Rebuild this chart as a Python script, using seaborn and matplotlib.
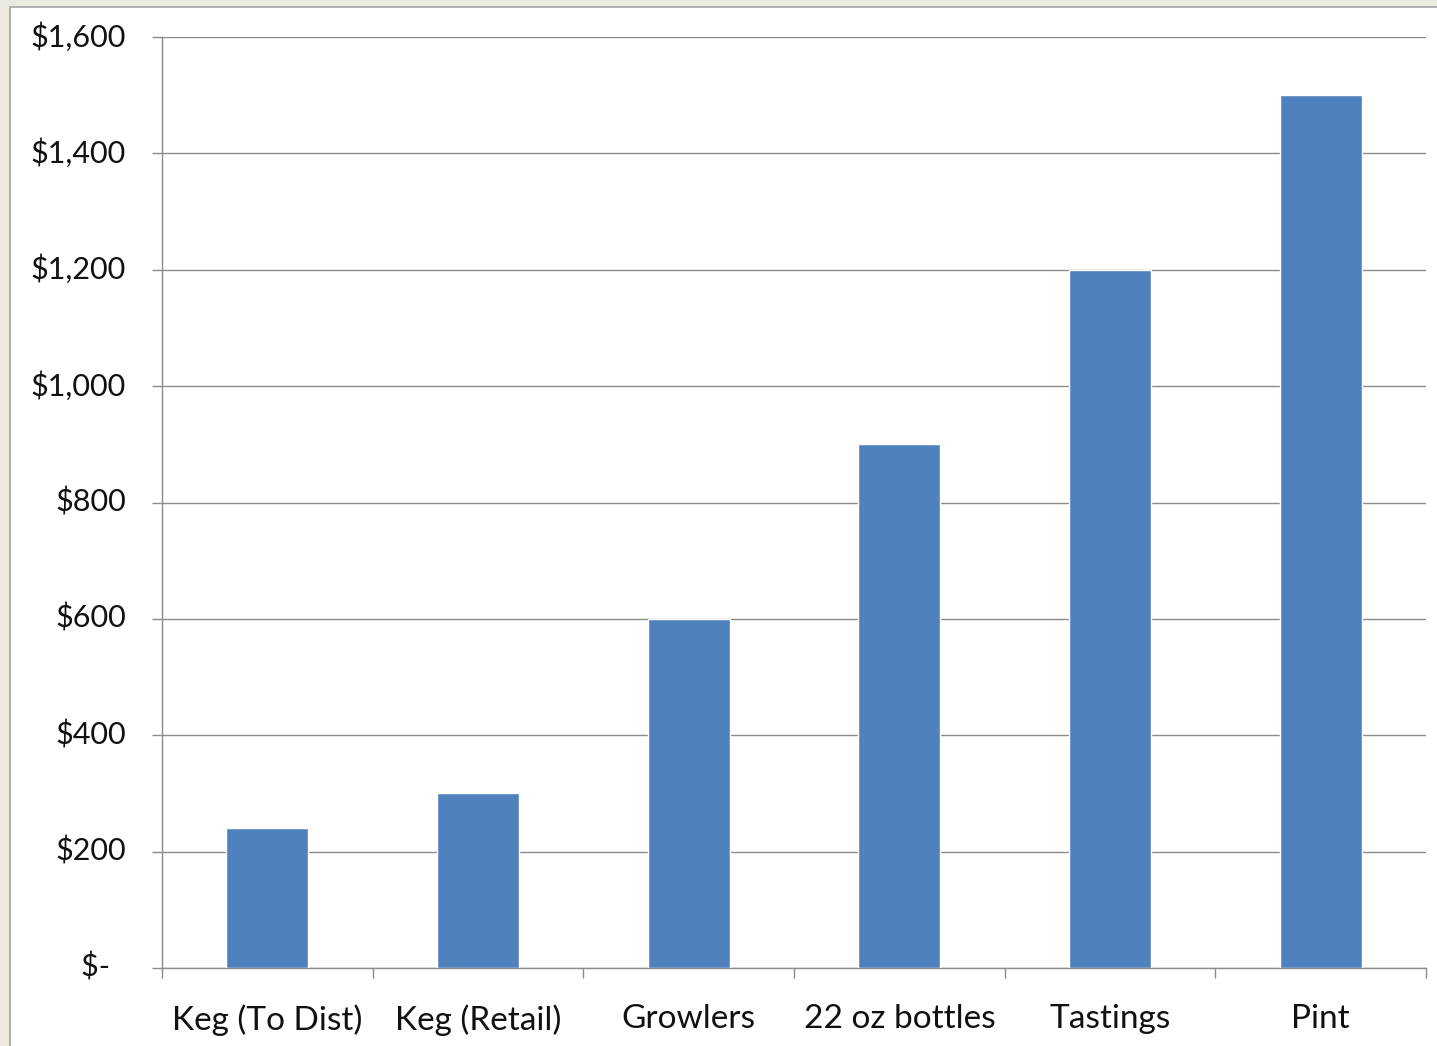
import matplotlib
matplotlib.use("Agg")
import matplotlib.pyplot as plt
import matplotlib.transforms as mtransforms
from matplotlib.patches import Rectangle
from matplotlib.ticker import FuncFormatter, MultipleLocator, FixedLocator
import seaborn as sns
import pandas as pd

# Revenue per unit of beer, by sales channel
categories = ["Keg (To Dist)", "Keg (Retail)", "Growlers", "22 oz bottles", "Tastings", "Pint"]
revenue = [240, 300, 600, 900, 1200, 1500]

df = pd.DataFrame({"channel": categories, "revenue": revenue})

sns.set_theme(style="white")
plt.rcParams["font.family"] = ["Lato", "DejaVu Sans"]

W, H = 1437, 1046
fig = plt.figure(figsize=(W / 100, H / 100), dpi=100, facecolor="#ECEADF")

# white chart area with a thin grey border, beige margin on left and top
fig.patches.append(Rectangle((9.5 / W, -0.01), 1.02, (H - 6.5) / H + 0.01,
                             transform=fig.transFigure, facecolor="white",
                             edgecolor="#A3A3A3", linewidth=1.2, zorder=-5))

ax = fig.add_axes([162 / W, 78 / H, (1426 - 162) / W, (968 - 37) / H])
ax.set_facecolor("none")

sns.barplot(data=df, x="channel", y="revenue", color="#4F81BD", saturation=1,
            width=0.39, ax=ax, zorder=3)

ax.set_ylim(0, 1600)
ax.set_xlim(-0.5, len(categories) - 0.5)
ax.yaxis.set_major_locator(MultipleLocator(200))
ax.yaxis.set_major_formatter(FuncFormatter(lambda v, p: "$-  " if v == 0 else f"${v:,.0f}"))
ax.yaxis.grid(True, color="#8A8A8A", linewidth=1.0, zorder=0)
ax.xaxis.grid(False)

# category boundary ticks on the x axis
ax.xaxis.set_minor_locator(FixedLocator([i - 0.5 for i in range(len(categories) + 1)]))
ax.tick_params(axis="x", which="minor", direction="out", length=7, width=1.0,
               color="#8A8A8A", bottom=True)
ax.tick_params(axis="x", which="major", length=0, pad=26, labelsize=24, labelcolor="#111111")
ax.tick_params(axis="y", which="major", direction="out", length=7, width=1.0,
               color="#8A8A8A", left=True, pad=19, labelsize=22, labelcolor="#111111")

# nudge the value labels up slightly so they sit centred on the gridlines
shift = mtransforms.ScaledTranslation(0, 3 / 100, fig.dpi_scale_trans)
for lbl in ax.get_yticklabels():
    lbl.set_transform(lbl.get_transform() + shift)

ax.set_xlabel("")
ax.set_ylabel("")
for side in ["top", "right"]:
    ax.spines[side].set_visible(False)
for side in ["left", "bottom"]:
    ax.spines[side].set_color("#8A8A8A")
    ax.spines[side].set_linewidth(1.0)

fig.savefig("out.png", dpi=100, facecolor=fig.get_facecolor())
